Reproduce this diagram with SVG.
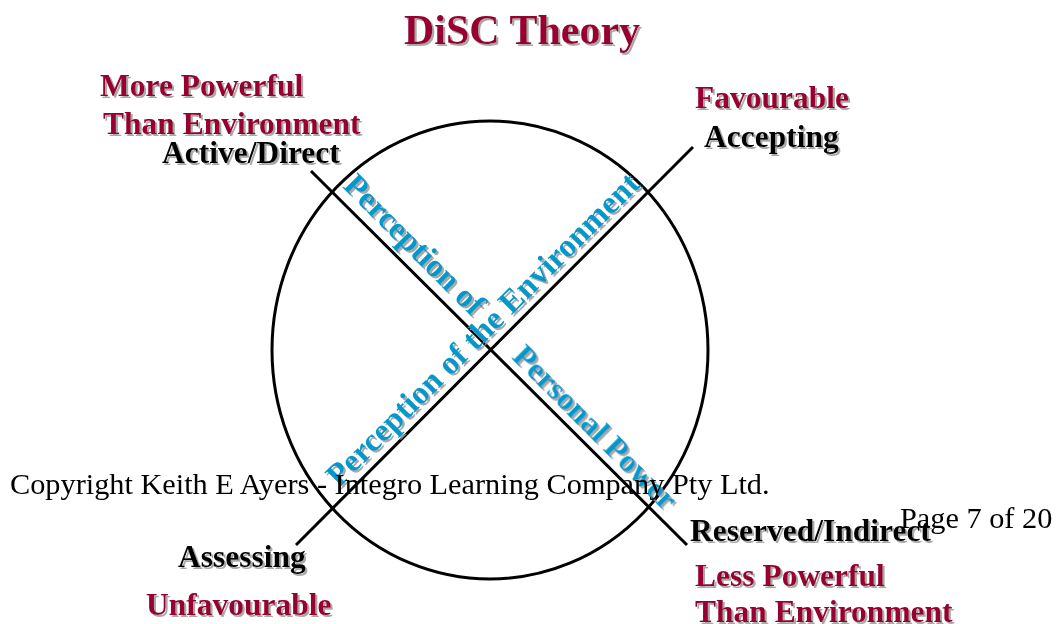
<svg xmlns="http://www.w3.org/2000/svg" width="1060" height="624" viewBox="0 0 1060 624">
  <defs>
    <filter id="shadow" x="-10%" y="-10%" width="130%" height="130%">
      <feDropShadow dx="2" dy="2" stdDeviation="0.6" flood-color="#9a9a9a" flood-opacity="0.85"/>
    </filter>
  </defs>
  <style>
    text { font-family: "Liberation Serif", "Times New Roman", serif; }
    .bold { font-weight: bold; font-size: 31.5px; }
    .maroon { fill: #990033; }
    .black { fill: #000000; }
    .blue { fill: #0099cc; font-weight: bold; font-size: 32.5px; }
    .plain { font-size: 30.3px; fill: #000000; }
    .axis { stroke: #000000; stroke-width: 3; fill: none; }
  </style>
  <rect width="1060" height="624" fill="#ffffff"/>

  <!-- title -->
  <g id="title" filter="url(#shadow)">
    <text x="404" y="44" class="maroon" font-weight="bold" font-size="42">DiSC Theory</text>
  </g>

  <!-- outer circle -->
  <g id="circle">
    <ellipse cx="490" cy="350" rx="218" ry="229" class="axis"/>
  </g>

  <!-- the two crossing axes -->
  <g id="connectors">
    <line x1="311" y1="171" x2="687" y2="545" class="axis"/>
    <line x1="693" y1="147" x2="296" y2="545" class="axis"/>
  </g>

  <!-- axis captions running along the lines -->
  <g id="axis-personal-power" filter="url(#shadow)">
    <text class="blue" transform="translate(342,187) rotate(45)">Perception of</text>
    <text class="blue" transform="translate(511,358) rotate(45)">Personal Power</text>
  </g>
  <g id="axis-environment" filter="url(#shadow)">
    <text class="blue" transform="translate(339,488) rotate(-45)">Perception of the Environment</text>
  </g>

  <!-- corner: top left -->
  <g id="node-active-direct" filter="url(#shadow)">
    <text x="100" y="96" class="bold maroon">More Powerful</text>
    <text x="103" y="134" class="bold maroon">Than Environment</text>
    <text x="162" y="163" class="bold black">Active/Direct</text>
  </g>

  <!-- corner: top right -->
  <g id="node-accepting" filter="url(#shadow)">
    <text x="695" y="108" class="bold maroon">Favourable</text>
    <text x="704" y="147" class="bold black">Accepting</text>
  </g>

  <!-- corner: bottom left -->
  <g id="node-assessing" filter="url(#shadow)">
    <text x="178" y="567" class="bold black">Assessing</text>
    <text x="146" y="615" class="bold maroon">Unfavourable</text>
  </g>

  <!-- corner: bottom right -->
  <g id="node-reserved-indirect" filter="url(#shadow)">
    <text x="690" y="541" class="bold black">Reserved/Indirect</text>
    <text x="695" y="586" class="bold maroon">Less Powerful</text>
    <text x="695" y="622" class="bold maroon">Than Environment</text>
  </g>

  <!-- footer -->
  <g id="footer">
    <text x="10" y="494" class="plain">Copyright Keith E Ayers - Integro Learning Company Pty Ltd.</text>
    <text x="900" y="528" class="plain">Page 7 of 20</text>
  </g>
</svg>
